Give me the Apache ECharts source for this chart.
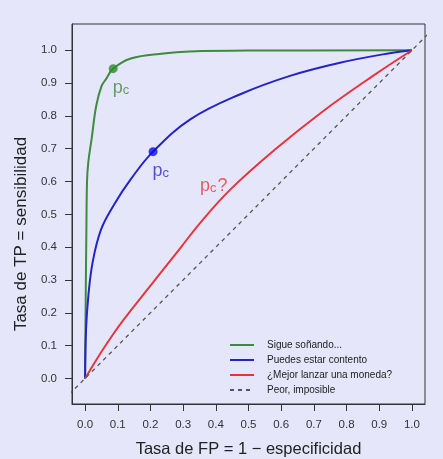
<!DOCTYPE html>
<html lang="es">
<head>
<meta charset="utf-8">
<title>Curvas ROC</title>
<script src="https://cdn.jsdelivr.net/npm/echarts@6/dist/echarts.min.js"></script>
<style>
  html, body { margin: 0; padding: 0; background: #e6e6fa; }
  #chart { width: 443px; height: 459px; }
</style>
</head>
<body>
<div id="chart"></div>
<script>
// datos (FP, TP)
var sigueSonando = [[0,0],[0.002,0.25],[0.004,0.45],[0.006,0.6],[0.01,0.66],[0.02,0.73],[0.034,0.83],[0.05,0.89],[0.064,0.912],[0.086,0.944],[0.14,0.975],[0.24,0.99],[0.32,0.996],[0.5,0.999],[1,1]];
var puedesEstar = [[0,0],[0.003,0.149],[0.01,0.251],[0.023,0.353],[0.049,0.454],[0.089,0.53],[0.14,0.607],[0.208,0.691],[0.323,0.79],[0.475,0.866],[0.627,0.922],[0.78,0.962],[0.932,0.991],[1,1]];
var moneda = [[0,0],[0.089,0.139],[0.191,0.271],[0.292,0.398],[0.353,0.475],[0.445,0.576],[0.582,0.698],[0.729,0.815],[0.881,0.922],[1,1]];
var diagonal = [[-0.1,-0.1],[1.1,1.1]];
var puntosCorte = [[0.086,0.944],[0.208,0.691]];
var preguntaCorte = [[0.353,0.612]];
var ticks = [0,0.1,0.2,0.3,0.4,0.5,0.6,0.7,0.8,0.9,1];
var nombres = ['Sigue soñando...', 'Puedes estar contento', '¿Mejor lanzar una moneda?', 'Peor, imposible'];

var fuente = 'Liberation Sans, Arial, sans-serif';
var pcRich = function (color) {
  return {
    p: { fontSize: 18, color: color, fontFamily: fuente, padding: [0, 0, 4, 0] },
    c: { fontSize: 13, color: color, fontFamily: fuente }
  };
};

var myChart = echarts.init(document.getElementById('chart'));
var option = {
  backgroundColor: '#e6e6fa',
  animation: false,
  grid: {
    left: 72, right: 18, top: 24, bottom: 55,
    outerBoundsMode: 'none', containLabel: false,
    show: true, borderColor: '#333', borderWidth: 1,
    backgroundColor: 'transparent'
  },
  legend: {
    orient: 'vertical',
    left: 224, top: 335,
    itemWidth: 24, itemHeight: 10, itemGap: 5,
    itemStyle: { opacity: 0 },
    data: nombres,
    textStyle: { fontSize: 10, color: '#222', fontFamily: fuente, padding: [0, 0, 0, 8] }
  },
  xAxis: {
    type: 'value', min: -0.04, max: 1.04,
    name: 'Tasa de FP = 1 \u2212 especificidad',
    nameLocation: 'middle', nameGap: 37,
    nameTextStyle: { fontSize: 16.5, color: '#222', fontFamily: fuente },
    axisLine: { show: true, onZero: false, lineStyle: { color: '#333', width: 1 } },
    splitLine: { show: false },
    axisTick: { show: true, inside: false, length: 7, customValues: ticks, lineStyle: { color: '#333' } },
    axisLabel: {
      customValues: ticks, margin: 15, fontSize: 11.5, color: '#333', fontFamily: fuente,
      formatter: function (v) { return v.toFixed(1); }
    }
  },
  yAxis: {
    type: 'value', min: -0.078, max: 1.08,
    name: 'Tasa de TP = sensibilidad',
    nameLocation: 'middle', nameGap: 37,
    nameTextStyle: { fontSize: 17, color: '#222', fontFamily: fuente, padding: [0, 40, 0, 0] },
    axisLine: { show: true, onZero: false, lineStyle: { color: '#333', width: 1 } },
    splitLine: { show: false },
    axisTick: { show: true, inside: false, length: 7, customValues: ticks, lineStyle: { color: '#333' } },
    axisLabel: {
      customValues: ticks, margin: 15, fontSize: 11.5, color: '#333', fontFamily: fuente,
      formatter: function (v) { return v.toFixed(1); }
    }
  },
  series: [
    {
      name: nombres[0], type: 'line', data: sigueSonando, showSymbol: false, symbol: 'none',
      smooth: 0.4,
      lineStyle: { color: '#3d8b3d', width: 2 }, itemStyle: { color: '#3d8b3d' }
    },
    {
      name: nombres[1], type: 'line', data: puedesEstar, showSymbol: false, symbol: 'none',
      smooth: 0.4,
      lineStyle: { color: '#2323c8', width: 2 }, itemStyle: { color: '#2323c8' }
    },
    {
      name: nombres[2], type: 'line', data: moneda, showSymbol: false, symbol: 'none',
      smooth: 0.4,
      lineStyle: { color: '#e8333c', width: 2 }, itemStyle: { color: '#e8333c' }
    },
    {
      name: nombres[3], type: 'line', data: diagonal, showSymbol: false, symbol: 'none',
      lineStyle: { color: '#555', width: 1.3, type: [4, 4] }, itemStyle: { color: '#555' }
    },
    {
      type: 'scatter', symbolSize: 9, z: 5,
      data: [
        { value: puntosCorte[0], itemStyle: { color: '#2e8b2e' },
          label: { show: true, position: [4, 15], align: 'left', verticalAlign: 'top',
                   formatter: '{p|p}{c|c}', rich: pcRich('#3d8b3d') } },
        { value: puntosCorte[1], itemStyle: { color: '#0a0ae6' },
          label: { show: true, position: [4, 15], align: 'left', verticalAlign: 'top',
                   formatter: '{p|p}{c|c}', rich: pcRich('#2a2ac8') } }
      ]
    },
    {
      type: 'scatter', symbolSize: 1, z: 5, itemStyle: { color: 'transparent' },
      data: preguntaCorte,
      label: { show: true, position: [0, 0], align: 'left', verticalAlign: 'top',
               formatter: '{p|p}{c|c}{q|?}',
               rich: Object.assign(pcRich('#e8333c'), { q: { fontSize: 18, color: '#e8333c', fontFamily: fuente, padding: [0, 0, 4, 1] } }) }
    }
  ]
};
myChart.setOption(option);
</script>
</body>
</html>
